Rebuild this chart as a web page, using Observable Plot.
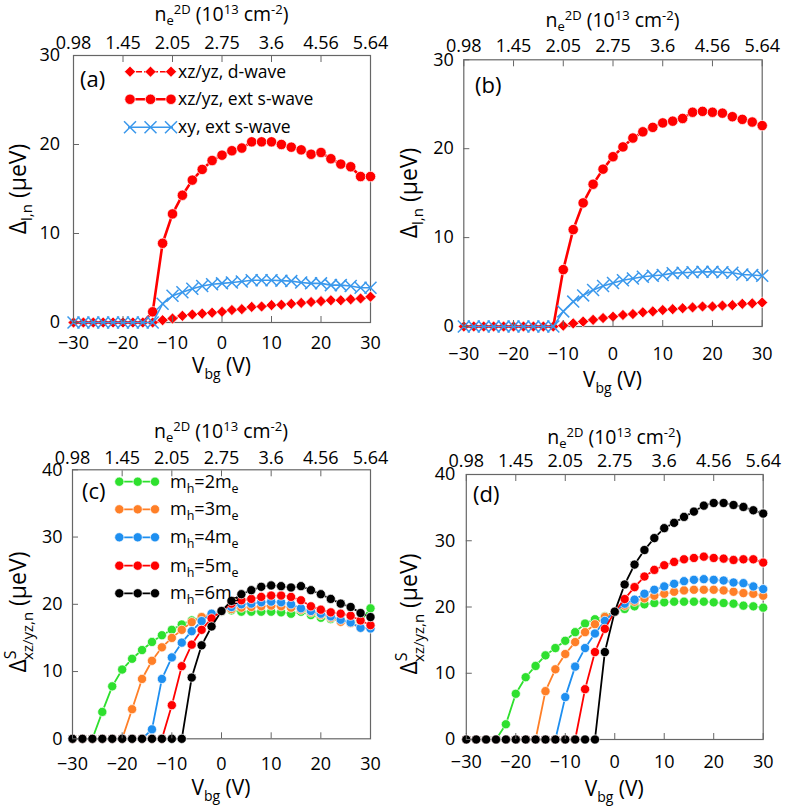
<!DOCTYPE html>
<html><head><meta charset="utf-8">
<script src="https://cdn.jsdelivr.net/npm/d3@7"></script>
<script src="https://cdn.jsdelivr.net/npm/@observablehq/plot@0.6"></script>
<style>
body{margin:0;background:#fff;}
#root{position:relative;width:786px;height:811px;background:#fff;font-family:"Open Sans",sans-serif;}
#root svg{position:absolute;overflow:visible;}
</style></head><body><div id="root"></div>
<script>
// ---------- data ----------
const V = [-30,-28,-26,-24,-22,-20,-18,-16,-14,-12,-10,-8,-6,-4,-2,0,2,4,6,8,10,12,14,16,18,20,22,24,26,28,30];
const xTicks = [-30,-20,-10,0,10,20,30];
const nLabels = ["0.98","1.45","2.05","2.75","3.6","4.56","5.64"];
const yTicksAB = [0,10,20,30];
const yTicksCD = [0,10,20,30,40];

// panel (a)
const aDwave = [0,0,0,0,0,0,0,0,0, 0.26,0.45,0.75,0.9,1.0,1.1,1.2,1.4,1.5,1.75,1.8,1.95,2.0,2.1,2.2,2.3,2.4,2.5,2.5,2.6,2.7,2.9];
const aExtS  = [0,0,0,0,0,0,0,0, 1.2,8.9,12.2,14.3,16.0,17.2,18.2,18.8,19.3,19.6,20.3,20.3,20.3,20.0,19.7,19.4,18.9,19.1,18.4,17.8,17.5,16.4,16.4];
const aXY    = [0,0,0,0,0,0,0,0,0, 2.1,3.0,3.4,3.8,4.1,4.3,4.4,4.5,4.6,4.75,4.75,4.75,4.7,4.65,4.5,4.4,4.4,4.2,4.2,4.1,3.9,3.9];
// panel (b)
const bDwave = [0,0,0,0,0,0,0,0,0,0, 0.1,0.35,0.55,0.75,0.95,1.1,1.3,1.4,1.6,1.7,1.85,1.95,2.05,2.15,2.25,2.25,2.35,2.4,2.55,2.6,2.7];
const bExtS  = [0,0,0,0,0,0,0,0,0,0, 6.4,10.9,13.9,16.0,17.7,19.1,20.2,21.2,21.9,22.4,22.9,23.1,23.4,24.1,24.2,24.1,24.0,23.6,23.3,23.0,22.6];
const bXY    = [0,0,0,0,0,0,0,0,0,0, 1.7,2.8,3.5,4.1,4.55,4.9,5.2,5.4,5.6,5.7,5.8,6.0,6.05,6.1,6.15,6.15,6.1,6.05,5.85,5.8,5.7];
// panel (c)
const cM2 = [0,0,0, 4.0,7.8,10.3,11.9,13.2,14.4,15.4,16.2,17.0,17.6,18.1,18.5,18.9,19.1,18.9,18.9,18.9,18.9,18.8,18.6,18.9,18.4,18.0,17.8,17.5,17.4,17.5,19.4];
const cM3 = [0,0,0,0,0,0, 4.4,8.9,11.6,13.6,15.0,16.2,17.35,18.1,18.6,19.0,19.3,19.5,19.6,19.7,19.8,19.7,19.5,19.2,18.8,18.4,18.0,17.4,17.2,16.5,16.5];
const cM4 = [0,0,0,0,0,0,0,0, 1.4,8.9,12.1,14.3,16.0,17.5,18.6,19.0,19.6,20.0,20.1,20.3,20.4,20.3,20.0,19.4,19.0,18.6,18.2,17.7,17.3,16.5,16.4];
const cM5 = [0,0,0,0,0,0,0,0,0,0, 5.0,10.8,14.0,16.2,17.9,19.0,20.1,20.6,20.8,21.1,21.3,21.3,21.1,20.6,19.7,19.2,18.8,18.6,18.3,17.6,16.9];
const cM6 = [0,0,0,0,0,0,0,0,0,0,0,0, 9.1,13.9,16.7,19.0,20.5,21.5,22.1,22.6,22.8,22.7,22.5,22.7,22.1,21.5,20.8,20.1,19.6,18.7,18.1];
// panel (d)
const dM2 = [0,0,0,0, 2.3,6.9,9.4,11.1,12.7,13.8,14.9,16.2,17.5,18.15,18.6,19.3,19.7,20.1,20.4,20.6,20.7,20.8,20.8,20.8,20.8,20.7,20.6,20.5,20.2,20.1,19.9];
const dM3 = [0,0,0,0,0,0,0,0, 7.3,10.6,12.9,14.7,16.2,17.4,18.5,19.3,20.2,20.8,21.3,21.7,22.0,22.3,22.5,22.6,22.6,22.6,22.5,22.3,22.1,22.0,21.7];
const dM4 = [0,0,0,0,0,0,0,0,0,0, 6.4,11.0,13.8,16.0,17.9,19.3,20.5,21.1,22.0,22.6,23.1,23.5,23.9,24.1,24.2,24.1,24.0,23.7,23.6,23.1,22.7];
const dM5 = [0,0,0,0,0,0,0,0,0,0,0,0, 7.6,13.2,16.7,19.3,21.2,23.0,24.6,25.6,26.3,26.8,27.2,27.4,27.6,27.4,27.3,27.1,27.2,27.2,26.7];
const dM6 = [0,0,0,0,0,0,0,0,0,0,0,0,0,0, 13.2,19.3,23.4,26.4,28.6,30.4,31.9,32.7,33.6,34.4,35.3,35.7,35.7,35.4,35.1,34.6,34.1];

const legendAB = ["xz/yz, d-wave","xz/yz, ext s-wave","xy, ext s-wave"];
const massLabels = ["2","3","4","5","6"];

// ---------- styles ----------
const RED = "#ff0000", XBLUE = "#3a98ec", GREEN = "#2ee02e", ORANGE = "#ff7f27", BLUE = "#1e8ff0", BLACK = "#000000";
const FONT = "Open Sans";

const sDwave = {color: RED, symbol: "diamond2", r: 5, lw: 1.6, skipZero: false};
const sExtS  = {color: RED, symbol: "circle", r: 5.2, lw: 2.6, skipZero: true};
const sXY    = {color: XBLUE, symbol: "times", r: 5.5, lw: 1.6, skipZero: false};
const sMass = [GREEN, ORANGE, BLUE, RED, BLACK].map(c => ({color: c, symbol: "circle", r: 4.6, lw: 1.8, skipZero: false}));

function rows(vals){ return V.map((v,i)=>({v, y: vals[i]})); }

function makePanel(cfg){
  const marks = [Plot.frame({stroke:"#666", strokeWidth:1.2})];
  cfg.series.forEach(s => {
    const data = rows(s.values);
    marks.push(Plot.line(data, {x:"v", y:"y", stroke:s.color, strokeWidth:s.lw}));
    const pts = s.skipZero ? data.filter(d => d.y > 0) : data;
    if (s.symbol === "times")
      marks.push(Plot.dot(pts, {x:"v", y:"y", symbol:"times", stroke:s.color, strokeWidth:1.5, r:s.r}));
    else
      marks.push(Plot.dot(pts, {x:"v", y:"y", symbol:s.symbol, fill:s.color, stroke:"white", strokeWidth:0.7, r:s.r}));
  });
  marks.push(Plot.axisX({anchor:"bottom", ticks:xTicks, tickSize:-6, tickPadding:cfg.padB, stroke:"#666", fontSize:18, label:null}));
  marks.push(Plot.axisX({anchor:"top", ticks:xTicks, tickSize:-6, tickPadding:cfg.padT, stroke:"#666", fontSize:18, label:null,
    tickFormat: d => nLabels[xTicks.indexOf(d)]}));
  marks.push(Plot.axisY({anchor:"left", ticks:cfg.yTicks, tickSize:-6, tickPadding:cfg.padY, stroke:"#666", fontSize:18, label:null}));
  const svg = Plot.plot({
    width: cfg.w, height: cfg.h,
    marginLeft: cfg.ml, marginRight: cfg.mr, marginTop: cfg.mt, marginBottom: cfg.mb,
    x: {domain: [-30, 30]},
    y: {domain: [0, cfg.ymax]},
    style: {fontFamily: FONT, fontSize: "18px", color: "black", background: "transparent", overflow: "visible"},
    marks
  });
  svg.style.left = cfg.left + "px";
  svg.style.top = cfg.top + "px";
  document.getElementById("root").appendChild(svg);
  decorate(svg, cfg);
  return svg;
}

function decorate(svg, cfg){
  const g = d3.select(svg).append("g").attr("font-family", FONT).attr("fill", "black").attr("text-anchor", "start");
  const cx = cfg.ml + (cfg.w - cfg.ml - cfg.mr) / 2;
  // top title
  const t = g.append("text").attr("x", cx).attr("y", cfg.titleY).attr("text-anchor", "middle").attr("font-size", 19.5);
  t.append("tspan").text("n");
  t.append("tspan").attr("font-size", 13).attr("dy", 4).text("e");
  t.append("tspan").attr("font-size", 13).attr("dx", 0).attr("dy", -11).text("2D");
  t.append("tspan").attr("dy", 7).text(" (10");
  t.append("tspan").attr("font-size", 13).attr("dy", -7).text("13");
  t.append("tspan").attr("dy", 7).text(" cm");
  t.append("tspan").attr("font-size", 13).attr("dy", -7).text("-2");
  t.append("tspan").attr("dy", 7).text(")");
  // x label
  const xl = g.append("text").attr("x", cx).attr("y", cfg.xlabY).attr("text-anchor", "middle").attr("font-size", 21);
  xl.append("tspan").text("V");
  xl.append("tspan").attr("font-size", 14).attr("dy", 6).text("bg");
  xl.append("tspan").attr("dy", -6).text(" (V)");
  // y label
  const yl = g.append("text").attr("transform", `translate(${cfg.ylabX},${cfg.ylabY}) rotate(-90)`)
    .attr("text-anchor", "middle").attr("font-size", 23);
  yl.append("tspan").text("Δ");
  if (cfg.superS) {
    yl.append("tspan").attr("font-size", 16).attr("dy", -10).text("S");
    yl.append("tspan").attr("font-size", 15).attr("dx", -9.5).attr("dy", 17).text("xz/yz,n");
    yl.append("tspan").attr("dy", -7).text(" (μeV)");
  } else {
    yl.append("tspan").attr("font-size", 15).attr("dy", 6).text("l,n");
    yl.append("tspan").attr("dy", -6).text(" (μeV)");
  }
  // panel tag
  g.append("text").attr("x", cfg.tagX).attr("y", cfg.tagY).attr("font-size", 22).text(cfg.tag);
  // legend
  if (cfg.legend) cfg.legend(g);
}

function symPath(type, r){
  const map = {circle: d3.symbolCircle, diamond2: d3.symbolDiamond2, times: d3.symbolTimes};
  return d3.symbol(map[type], Math.PI * r * r)();
}

function legendA(g){
  const ys = [71.7, 99.3, 127.3];
  const ser = [sDwave, sExtS, sXY];
  ser.forEach((s, i) => {
    const y = ys[i];
    g.append("line").attr("x1", 128).attr("x2", 173).attr("y1", y).attr("y2", y)
      .attr("stroke", s.color).attr("stroke-width", s.lw).attr("stroke-dasharray", i === 0 ? "6,2" : null);
    [130, 150.5, 171].forEach(x => {
      const p = g.append("path").attr("d", symPath(s.symbol, s.r)).attr("transform", `translate(${x},${y})`);
      if (s.symbol === "times") p.attr("fill", "none").attr("stroke", s.color).attr("stroke-width", 1.5);
      else p.attr("fill", s.color).attr("stroke", "white").attr("stroke-width", 0.7);
    });
    g.append("text").attr("x", 178).attr("y", y + 6).attr("font-size", 17.5).text(legendAB[i]);
  });
}

function legendC(g){
  const ys = [81.7, 109.3, 137.3, 165.7, 193.3];
  sMass.forEach((s, i) => {
    const y = ys[i];
    g.append("line").attr("x1", 117).attr("x2", 157).attr("y1", y).attr("y2", y)
      .attr("stroke", s.color).attr("stroke-width", s.lw);
    [119.3, 137.7, 155].forEach(x => {
      g.append("path").attr("d", symPath("circle", s.r)).attr("transform", `translate(${x},${y})`)
        .attr("fill", s.color).attr("stroke", "white").attr("stroke-width", 0.7);
    });
    const t = g.append("text").attr("x", 170).attr("y", y + 6).attr("font-size", 18);
    t.append("tspan").text("m");
    t.append("tspan").attr("font-size", 12.5).attr("dy", 5).text("h");
    t.append("tspan").attr("dy", -5).text("=" + massLabels[i] + "m");
    t.append("tspan").attr("font-size", 12.5).attr("dy", 5).text("e");
  });
}

makePanel({left:0, top:0, w:393, h:400, ml:73, mr:23, mt:55, mb:78, ymax:30, yTicks:yTicksAB,
  padT:12.7, padB:20, padY:19.5, titleY:21, xlabY:373, ylabX:26, ylabY:189, tagX:80, tagY:87, tag:"(a)",
  series:[{...sDwave, values:aDwave}, {...sExtS, values:aExtS}, {...sXY, values:aXY}], legend: legendA});
makePanel({left:393, top:0, w:393, h:400, ml:70.3, mr:24.3, mt:59.3, mb:74, ymax:30, yTicks:yTicksAB,
  padT:13.6, padB:27, padY:16, titleY:27, xlabY:387, ylabX:24, ylabY:193, tagX:82, tagY:93, tag:"(b)",
  series:[{...sDwave, values:bDwave}, {...sExtS, values:bExtS}, {...sXY, values:bXY}]});
makePanel({left:0, top:400, w:393, h:411, ml:72, mr:23, mt:69.3, mb:72.7, ymax:40, yTicks:yTicksCD,
  padT:12, padB:24, padY:16, titleY:37.5, xlabY:395, ylabX:26, ylabY:212, tagX:82, tagY:99, tag:"(c)", superS:true,
  series:[cM2,cM3,cM4,cM5,cM6].map((vals,i)=>({...sMass[i], values:vals})), legend: legendC});
makePanel({left:393, top:400, w:393, h:411, ml:72.8, mr:23.3, mt:74, mb:72, ymax:40, yTicks:yTicksCD,
  padT:13.6, padB:22, padY:17, titleY:43.5, xlabY:396, ylabX:24, ylabY:214, tagX:80, tagY:102, tag:"(d)", superS:true,
  series:[dM2,dM3,dM4,dM5,dM6].map((vals,i)=>({...sMass[i], values:vals}))});
</script></body></html>
